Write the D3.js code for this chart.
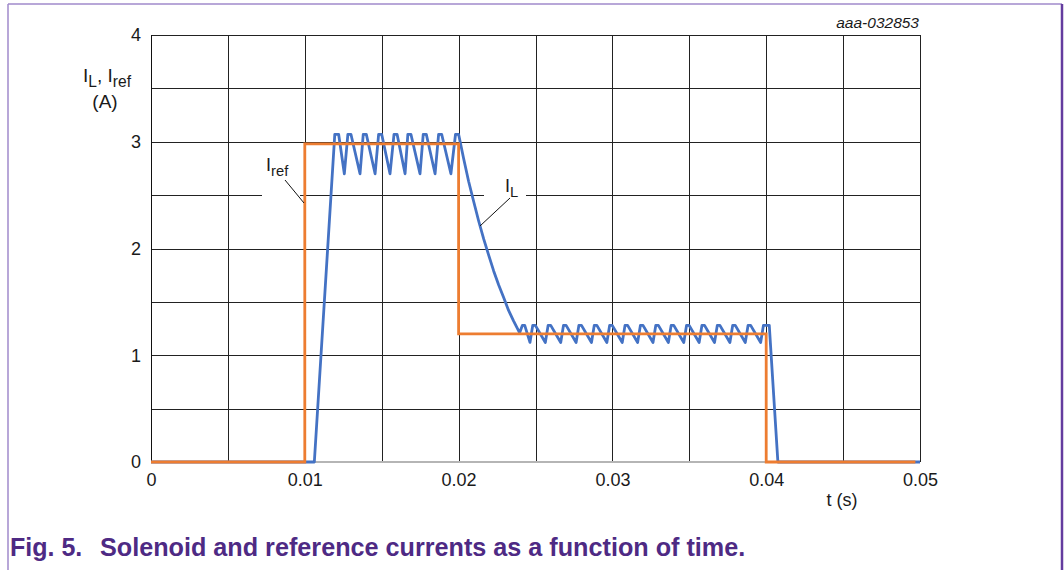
<!DOCTYPE html>
<html><head><meta charset="utf-8">
<script src="https://cdn.jsdelivr.net/npm/d3@7"></script>
<style>
body{margin:0;background:#fff}
svg{display:block}
text{font-family:Arial,"Liberation Sans",Helvetica,sans-serif;fill:#1a1a1a}
</style>
</head><body>
<svg id="c" width="1064" height="570"></svg>
<script>
// ---- data ----
const xTickValues = [0, 0.01, 0.02, 0.03, 0.04, 0.05];
const xTickLabels = ["0", "0.01", "0.02", "0.03", "0.04", "0.05"];
const yTickValues = [0, 1, 2, 3, 4];
const yTickLabels = ["0", "1", "2", "3", "4"];

// reference current I_ref  [t (s), A]
const referenceCurrent = [
  [0, 0], [0.0100, 0], [0.0100, 2.98], [0.0200, 2.98],
  [0.0200, 1.20], [0.0400, 1.20], [0.0400, 0], [0.0497, 0]
];

// solenoid current I_L  [t (s), A]
const solenoidCurrent = [
  [0, 0], [0.01062, 0], [0.01195, 3.07], [0.0122, 3.07], [0.01257, 2.70],
  [0.0128, 3.07], [0.0130, 3.07], [0.01359, 2.70],
  [0.0138, 3.07], [0.0140, 3.07], [0.01457, 2.70],
  [0.0148, 3.07], [0.0150, 3.07], [0.01554, 2.70],
  [0.0158, 3.07], [0.0160, 3.07], [0.01652, 2.70],
  [0.0167, 3.07], [0.0169, 3.07], [0.01749, 2.70],
  [0.0177, 3.07], [0.0179, 3.07], [0.01847, 2.70],
  [0.0187, 3.07], [0.0189, 3.07], [0.01950, 2.70],
  [0.0198, 3.07], [0.0200, 3.07],
  [0.02033, 2.84], [0.02065, 2.63], [0.02098, 2.44], [0.0213, 2.26],
  [0.02163, 2.09], [0.02195, 1.94], [0.02228, 1.79], [0.0226, 1.66],
  [0.02293, 1.54], [0.02325, 1.42], [0.02358, 1.32], [0.02397, 1.21],
  [0.02415, 1.28], [0.0243, 1.28], [0.02464, 1.12],
  [0.02482, 1.28], [0.02499, 1.28], [0.02564, 1.12],
  [0.02582, 1.28], [0.02599, 1.28], [0.02664, 1.12],
  [0.02682, 1.28], [0.02699, 1.28], [0.02764, 1.12],
  [0.02782, 1.28], [0.02799, 1.28], [0.02864, 1.12],
  [0.02882, 1.28], [0.02899, 1.28], [0.02964, 1.12],
  [0.02982, 1.28], [0.02999, 1.28], [0.03064, 1.12],
  [0.03082, 1.28], [0.03099, 1.28], [0.03164, 1.12],
  [0.03182, 1.28], [0.03199, 1.28], [0.03264, 1.12],
  [0.03282, 1.28], [0.03299, 1.28], [0.03364, 1.12],
  [0.03382, 1.28], [0.03399, 1.28], [0.03464, 1.12],
  [0.03482, 1.28], [0.03499, 1.28], [0.03564, 1.12],
  [0.03582, 1.28], [0.03599, 1.28], [0.03664, 1.12],
  [0.03682, 1.28], [0.03699, 1.28], [0.03764, 1.12],
  [0.03782, 1.28], [0.03799, 1.28], [0.03864, 1.12],
  [0.03882, 1.28], [0.03899, 1.28], [0.03964, 1.12],
  [0.03982, 1.28], [0.0402, 1.28], [0.04076, 0], [0.0500, 0]
];

// ---- layout ----
const svg = d3.select("#c");
const L = 151, R = 920, T = 35, B = 462;
const x = d3.scaleLinear().domain([0, 0.05]).range([L, R]);
const y = d3.scaleLinear().domain([0, 4]).range([B, T]);
const crisp = v => Math.round(v) + 0.5;

// frame
svg.append("line").attr("x1", 8).attr("y1", 4).attr("x2", 1062).attr("y2", 4)
  .attr("stroke", "#a08acb").attr("stroke-width", 1.5);
svg.append("line").attr("x1", 8).attr("y1", 4).attr("x2", 8).attr("y2", 570)
  .attr("stroke", "#a08acb").attr("stroke-width", 1.5);
svg.append("line").attr("x1", 1062).attr("y1", 4).attr("x2", 1062).attr("y2", 570)
  .attr("stroke", "#643c9f").attr("stroke-width", 2.5);

// grid
const g = svg.append("g");
g.selectAll("line.vx").data(x.ticks(10)).join("line")
  .attr("x1", d => crisp(x(d))).attr("x2", d => crisp(x(d)))
  .attr("y1", T).attr("y2", B)
  .attr("stroke", "#222").attr("stroke-width", 1);
g.selectAll("line.hy").data(y.ticks(8)).join("line")
  .attr("x1", L).attr("x2", R)
  .attr("y1", d => crisp(y(d))).attr("y2", d => crisp(y(d)))
  .attr("stroke", "#222").attr("stroke-width", 1);

// label backgrounds (hide grid)
svg.append("rect").attr("x", 262).attr("y", 150).attr("width", 38).attr("height", 58).attr("fill", "#fff");
svg.append("rect").attr("x", 484).attr("y", 172).attr("width", 42).attr("height", 40).attr("fill", "#fff");

// axes lines
svg.append("line").attr("x1", L).attr("x2", R).attr("y1", y(0)).attr("y2", y(0))
  .attr("stroke", "#b5b5b5").attr("stroke-width", 2);
svg.append("line").attr("x1", crisp(L)).attr("x2", crisp(L)).attr("y1", T).attr("y2", B)
  .attr("stroke", "#111").attr("stroke-width", 1);

// tick labels
const xAxis = d3.axisBottom(x).tickValues(xTickValues)
  .tickFormat((d, i) => xTickLabels[i]).tickSize(0).tickPadding(11);
const xa = svg.append("g").attr("transform", `translate(0,${B})`).call(xAxis);
xa.select(".domain").remove();
xa.selectAll("text").style("font-size", "18px").attr("fill", "#1a1a1a");

const yAxis = d3.axisLeft(y).tickValues(yTickValues)
  .tickFormat((d, i) => yTickLabels[i]).tickSize(0).tickPadding(10);
const ya = svg.append("g").attr("transform", `translate(${L},0)`).call(yAxis);
ya.select(".domain").remove();
ya.selectAll("text").style("font-size", "18px").attr("fill", "#1a1a1a");

// series
const line = d3.line().x(d => x(d[0])).y(d => y(d[1]));
svg.append("path").datum(solenoidCurrent).attr("d", line)
  .attr("fill", "none").attr("stroke", "#4472c4").attr("stroke-width", 2.8)
  .attr("stroke-linejoin", "round");
svg.append("path").datum(referenceCurrent).attr("d", line)
  .attr("fill", "none").attr("stroke", "#ed7d31").attr("stroke-width", 2.8)
  .attr("stroke-linejoin", "miter");

// annotations
svg.append("line").attr("x1", 285).attr("y1", 180).attr("x2", 304).attr("y2", 203)
  .attr("stroke", "#111").attr("stroke-width", 1);
svg.append("line").attr("x1", 510).attr("y1", 198).attr("x2", 480).attr("y2", 226)
  .attr("stroke", "#111").attr("stroke-width", 1);

function subLabel(xp, yp, parts, size, anchor, shift) {
  const sh = shift || 0.28;
  const t = svg.append("text").attr("x", xp).attr("y", yp)
    .attr("text-anchor", anchor || "start").style("font-size", size + "px");
  let sub = false;
  parts.forEach(p => {
    const s = t.append("tspan").text(p[0]);
    if (p[1] && !sub) { s.attr("dy", size * sh).style("font-size", (size * 0.82) + "px"); sub = true; }
    else if (p[1]) { s.style("font-size", (size * 0.82) + "px"); }
    else if (!p[1] && sub) { s.attr("dy", -size * sh); sub = false; }
  });
  return t;
}
subLabel(266, 171, [["I"], ["ref", true]], 18);
subLabel(505, 192, [["I"], ["L", true]], 18);
subLabel(107, 82, [["I"], ["L", true], [", I"], ["ref", true]], 19, "middle", 0.25);
svg.append("text").attr("x", 105).attr("y", 108).attr("text-anchor", "middle")
  .style("font-size", "19px").text("(A)");

svg.append("text").attr("x", 842).attr("y", 506).attr("text-anchor", "middle")
  .style("font-size", "18px").text("t (s)");
svg.append("text").attr("x", 919).attr("y", 28).attr("text-anchor", "end")
  .style("font-size", "15.5px").style("font-style", "italic").text("aaa-032853");

// caption
svg.append("text").attr("x", 10).attr("y", 556)
  .style("font-size", "25px").style("font-weight", "bold").style("fill", "#4e2a84")
  .text("Fig. 5.");
svg.append("text").attr("x", 100).attr("y", 556)
  .style("font-size", "25.2px").style("font-weight", "bold").style("fill", "#4e2a84")
  .text("Solenoid and reference currents as a function of time.");
</script>
</body></html>
